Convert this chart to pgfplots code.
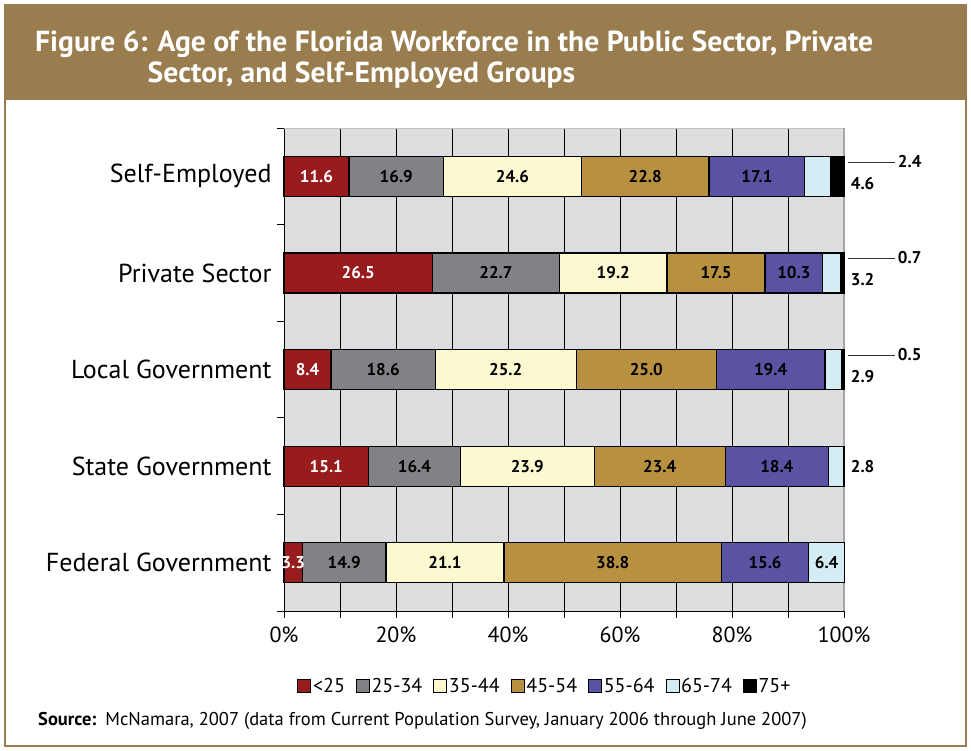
\documentclass[border=0pt]{standalone}
\usepackage{fontspec}
\setmainfont{PT Sans}
\usepackage{pgfplots}
\pgfplotsset{compat=1.18}
\usepackage{pgfplotstable}
\definecolor{framecol}{HTML}{9A7D4F}
\definecolor{cA}{HTML}{981B1E}
\definecolor{cB}{HTML}{808285}
\definecolor{cC}{HTML}{FCF9D0}
\definecolor{cD}{HTML}{B89140}
\definecolor{cE}{HTML}{5A52A3}
\definecolor{cF}{HTML}{D4EDF4}
\definecolor{cG}{HTML}{000000}
\definecolor{gridbg}{HTML}{DCDDDF}
\pgfplotstableread{
cat a b c d e f g
0 3.3 14.9 21.1 38.8 15.6 6.4 0
1 15.1 16.4 23.9 23.4 18.4 2.8 0
2 8.4 18.6 25.2 25.0 19.4 2.9 0.5
3 26.5 22.7 19.2 17.5 10.3 3.2 0.7
4 11.6 16.9 24.6 22.8 17.1 4.6 2.4
}\data
\pgfplotsset{
  boxlegend/.style={legend image code/.code={\draw[##1, draw=black, line width=0.6pt] (0pt,-6.5pt) rectangle (13pt,6.5pt);}},
}
\tikzset{ann/.style={font=\bfseries\fontsize{17}{17}\selectfont}}
\begin{document}
\begin{tikzpicture}[x=1pt,y=1pt]
\path[fill=white] (0,0) rectangle (971,750);
\fill[framecol] (5,650) rectangle (966,745);
\draw[framecol, line width=2pt] (5,4) rectangle (966,745);
\node[anchor=base west, inner sep=0, text=white] at (35,698) {\resizebox{838pt}{\height}{\fontsize{29}{31}\selectfont\bfseries\begin{tabular}[t]{@{}l@{}}Figure 6: Age of the Florida Workforce in the Public Sector, Private\\ \phantom{Figure 6:}Sector, and Self-Employed Groups\end{tabular}}};
\node[anchor=base west, inner sep=0] at (38,25) {\fontsize{18.5}{18.5}\selectfont\textbf{Source:}\hspace{9pt}McNamara, 2007 (data from Current Population Survey, January 2006 through June 2007)};
\begin{axis}[
  at={(284pt,139pt)}, anchor=south west,
  scale only axis, width=560pt, height=483pt,
  xbar stacked, bar width=40pt,
  xmin=0, xmax=100, ymin=-0.5, ymax=4.5,
  clip=false,
  axis lines*=left,
  axis line style={-, black, line width=1pt},
  axis background/.style={fill=gridbg},
  xtick={0,20,...,100},
  minor xtick={10,20,...,90},
  xminorgrids, minor grid style={black, line width=0.8pt},
  xticklabel={\pgfmathprintnumber{\tick}\%},
  x tick label style={font=\fontsize{22}{22}\selectfont, yshift=-5pt},
  tick align=outside, major tick length=7pt, minor tick length=7pt,
  tick style={black, line width=1pt},
  ytick={-0.5,0.5,...,4.5}, yticklabels={},
  extra y ticks={0,1,2,3,4},
  extra y tick labels={Federal Government, State Government, Local Government, Private Sector, Self-Employed},
  extra y tick style={major tick length=0pt, yticklabel style={font=\fontsize{26}{26}\selectfont, xshift=-9pt}},
  /pgf/number format/assume math mode=true,
  legend style={at={(0.466,-0.155)}, anchor=center, draw=none, fill=none,
    font=\fontsize{20}{20}\selectfont, legend columns=-1,
    /tikz/every odd column/.append style={column sep=0pt},
    /tikz/every even column/.append style={column sep=9pt}},
  every axis plot/.append style={draw=black, line width=1.2pt},
]
\addplot[fill=cA, boxlegend] table[x=a, y=cat] {\data};
\addplot[fill=cB, boxlegend] table[x=b, y=cat] {\data};
\addplot[fill=cC, boxlegend] table[x=c, y=cat] {\data};
\addplot[fill=cD, boxlegend] table[x=d, y=cat] {\data};
\addplot[fill=cE, boxlegend] table[x=e, y=cat] {\data};
\addplot[fill=cF, boxlegend] table[x=f, y=cat] {\data};
\addplot[fill=cG, boxlegend] table[x=g, y=cat] {\data};
\legend{<25, 25-34, 35-44, 45-54, 55-64, 65-74, 75+}
\draw[gray!70, line width=1.5pt] (axis cs:100,-0.5) -- (axis cs:100,4.5);
\draw[gray!50, line width=0.8pt] (axis cs:0,4.5) -- (axis cs:100,4.5);
\node[ann, anchor=west, inner sep=0] at (axis cs:101.2,1) {2.8};
\node[ann, anchor=west, inner sep=0] at (axis cs:101.2,1.93) {2.9};
\node[ann, anchor=west, inner sep=0] at (axis cs:101.2,2.93) {3.2};
\node[ann, anchor=west, inner sep=0] at (axis cs:101.2,3.93) {4.6};
\node[ann, anchor=west, inner sep=0] at (axis cs:109.6,2.155) {0.5};
\node[ann, anchor=west, inner sep=0] at (axis cs:109.6,3.155) {0.7};
\node[ann, anchor=west, inner sep=0] at (axis cs:109.6,4.155) {2.4};
\draw[black!80, line width=1pt] (axis cs:100.7,2.145) -- (axis cs:109.1,2.145);
\draw[black!80, line width=1pt] (axis cs:100.7,3.145) -- (axis cs:109.1,3.145);
\draw[black!80, line width=1pt] (axis cs:100.7,4.145) -- (axis cs:109.1,4.145);
\end{axis}
% segment value labels, centred in each segment (axis: x 0..100 -> 284..844, y -0.5..4.5 -> 139..622)
\foreach \r/\va/\vb/\vc/\vd/\ve in {0/3.3/14.9/21.1/38.8/15.6, 1/15.1/16.4/23.9/23.4/18.4, 2/8.4/18.6/25.2/25.0/19.4, 3/26.5/22.7/19.2/17.5/10.3, 4/11.6/16.9/24.6/22.8/17.1}{
  \pgfmathsetmacro\yy{139+96.6*(\r+0.5)}
  \pgfmathsetmacro\xa{284+5.6*(\va/2)}
  \pgfmathsetmacro\xb{284+5.6*(\va+\vb/2)}
  \pgfmathsetmacro\xc{284+5.6*(\va+\vb+\vc/2)}
  \pgfmathsetmacro\xd{284+5.6*(\va+\vb+\vc+\vd/2)}
  \pgfmathsetmacro\xe{284+5.6*(\va+\vb+\vc+\vd+\ve/2)}
  \node[ann, text=white] at (\xa,\yy) {\va};
  \node[ann] at (\xb,\yy) {\vb};
  \node[ann] at (\xc,\yy) {\vc};
  \node[ann] at (\xd,\yy) {\vd};
  \node[ann] at (\xe,\yy) {\ve};
}
\pgfmathsetmacro\xf{284+5.6*(3.3+14.9+21.1+38.8+15.6+6.4/2)}
\pgfmathsetmacro\yf{139+96.6*0.5}
\node[ann] at (\xf,\yf) {6.4};
\end{tikzpicture}
\end{document}
